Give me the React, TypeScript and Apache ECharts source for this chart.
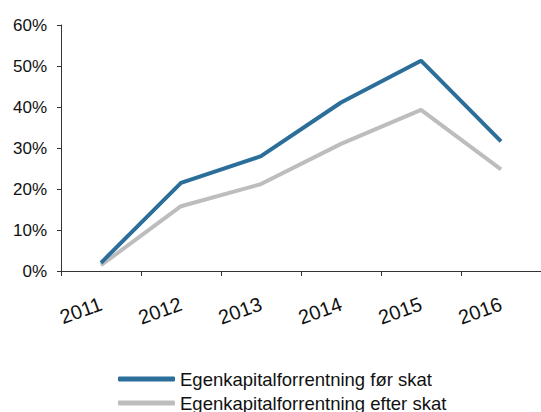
import React, { useEffect, useRef } from "react";
import * as echarts from "echarts";

const years = ["2011", "2012", "2013", "2014", "2015", "2016"];
const beforeTax = [2.0, 21.5, 28.0, 41.1, 51.3, 31.6];
const afterTax = [1.4, 15.8, 21.2, 31.0, 39.3, 24.8];
const seriesNames = ["Egenkapitalforrentning før skat", "Egenkapitalforrentning efter skat"];

export default function App() {
  const ref = useRef<HTMLDivElement>(null);
  useEffect(() => {
    const chart = echarts.init(ref.current!, null, { renderer: "svg" });
    const font = "'Liberation Sans', Arial, sans-serif";
    const legendBase = {
      orient: "horizontal",
      left: 118,
      padding: 0,
      itemWidth: 57,
      itemHeight: 5,
      icon: "roundRect",
      textStyle: { fontSize: 18.5, lineHeight: 22, color: "#111", fontFamily: font },
    };
    chart.setOption({
      animation: false,
      backgroundColor: "#ffffff",
      grid: { left: 61, right: -4, top: 25, bottom: 141, containLabel: false },
      xAxis: {
        type: "category",
        data: years,
        boundaryGap: true,
        axisLine: { lineStyle: { color: "#333", width: 1 } },
        axisTick: { show: true, length: 5, lineStyle: { color: "#333" } },
        axisLabel: {
          rotate: 20,
          margin: 32,
          fontSize: 20,
          color: "#111",
          fontFamily: font,
        },
      },
      yAxis: {
        type: "value",
        min: 0,
        max: 60,
        interval: 10,
        splitLine: { show: false },
        axisLine: { show: true, lineStyle: { color: "#333", width: 1 } },
        axisTick: { show: true, length: 4, lineStyle: { color: "#333" } },
        axisLabel: {
          formatter: "{value}%",
          fontSize: 17,
          margin: 14,
          color: "#111",
          fontFamily: font,
        },
      },
      legend: [
        { ...legendBase, top: 368, data: [seriesNames[0]] },
        { ...legendBase, top: 392, data: [seriesNames[1]] },
      ],
      series: [
        {
          name: seriesNames[0],
          type: "line",
          data: beforeTax,
          symbol: "none",
          color: "#2b6e99",
          lineStyle: { width: 4, color: "#2b6e99" },
          z: 3,
        },
        {
          name: seriesNames[1],
          type: "line",
          data: afterTax,
          symbol: "none",
          color: "#bdbdbd",
          lineStyle: { width: 4, color: "#bdbdbd" },
          z: 2,
        },
      ],
    });
    return () => chart.dispose();
  }, []);
  return <div ref={ref} style={{ width: 541, height: 412, position: "absolute", left: 0, top: 0 }} />;
}
